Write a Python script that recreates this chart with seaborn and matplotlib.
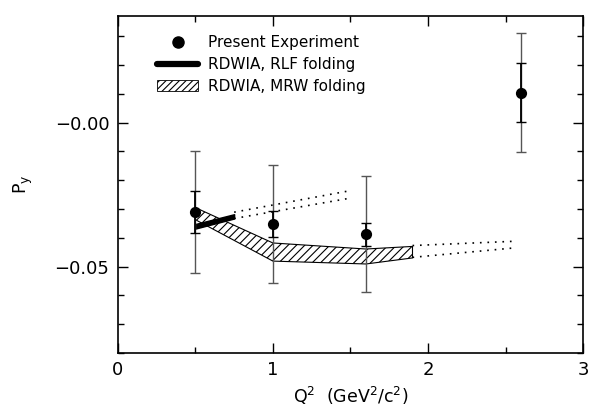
import numpy as np
import pandas as pd
import matplotlib
matplotlib.use("Agg")
import matplotlib.pyplot as plt
from matplotlib.lines import Line2D
from matplotlib.patches import Patch
from matplotlib.ticker import MultipleLocator
import seaborn as sns

# measured points
q2_exp = [0.5, 1.0, 1.6, 2.6]
py_exp = [-0.0310, -0.0352, -0.0387, 0.0105]
err_stat = [0.0074, 0.0045, 0.0040, 0.0102]
err_tot = [0.0213, 0.0205, 0.0203, 0.0207]

# RDWIA, RLF folding (narrow band) + dotted continuation
q2_rlf = [0.5, 0.75]
rlf_hi = [-0.0352, -0.0318]
rlf_lo = [-0.0368, -0.0333]
q2_rlf_ext = [0.75, 1.5]
rlf_ext_hi = [-0.0311, -0.0236]
rlf_ext_lo = [-0.0333, -0.0262]

# RDWIA, MRW folding (hatched band) + dotted continuation
q2_mrw = [0.5, 1.0, 1.6, 1.9]
mrw_hi = [-0.0295, -0.0418, -0.0439, -0.0430]
mrw_lo = [-0.0337, -0.0481, -0.0491, -0.0470]
q2_mrw_ext = [1.9, 2.56]
mrw_ext_hi = [-0.0427, -0.0412]
mrw_ext_lo = [-0.0468, -0.0435]

ytick_vals = [-0.05, 0.0]
ytick_labels = ["\u22120.05", "\u22120.00"]
xtick_vals = [0, 1, 2, 3]


def main():
    sns.set_theme(style="ticks")
    plt.rcParams["font.family"] = ["DejaVu Sans"]
    plt.rcParams["hatch.linewidth"] = 0.8
    for key in ("text.color", "axes.labelcolor", "xtick.color",
                "ytick.color", "axes.edgecolor"):
        plt.rcParams[key] = "black"

    fig = plt.figure(figsize=(5.95, 4.07), dpi=100)
    ax = fig.add_axes([0.198, 0.133, 0.782, 0.827])

    dotted = (0, (1, 3.5))

    # MRW band
    ax.fill_between(q2_mrw, mrw_lo, mrw_hi, facecolor="white",
                    edgecolor="black", hatch="////", linewidth=0.8, zorder=2)
    for ys in (mrw_ext_hi, mrw_ext_lo):
        sns.lineplot(x=q2_mrw_ext, y=ys, ax=ax, color="black",
                     linestyle=dotted, linewidth=1.2, zorder=2)

    # RLF band
    ax.fill_between(q2_rlf, rlf_lo, rlf_hi, facecolor="black",
                    edgecolor="black", linewidth=1.0, zorder=3)
    for ys in (rlf_ext_hi, rlf_ext_lo):
        sns.lineplot(x=q2_rlf_ext, y=ys, ax=ax, color="black",
                     linestyle=dotted, linewidth=1.2, zorder=2)

    # error bars: total (thin grey) and statistical (black)
    ax.errorbar(q2_exp, py_exp, yerr=err_tot, fmt="none", ecolor="#555555",
                elinewidth=1.0, capsize=3.8, capthick=1.0, zorder=4)
    ax.errorbar(q2_exp, py_exp, yerr=err_stat, fmt="none", ecolor="black",
                elinewidth=1.3, capsize=3.8, capthick=1.0, zorder=4)

    df = pd.DataFrame({"q2": q2_exp, "py": py_exp})
    sns.scatterplot(data=df, x="q2", y="py", ax=ax, color="black", s=65,
                    edgecolor="black", linewidth=0, zorder=5)

    ax.set_xlim(0, 3)
    ax.set_ylim(-0.08, 0.037)
    ax.set_xticks(xtick_vals)
    ax.set_xticklabels([str(v) for v in xtick_vals])
    ax.set_yticks(ytick_vals)
    ax.set_yticklabels(ytick_labels)
    ax.xaxis.set_minor_locator(MultipleLocator(0.5))
    ax.yaxis.set_minor_locator(MultipleLocator(0.01))
    ax.tick_params(which="both", direction="in", top=True, right=True,
                   width=1.0, colors="black", labelsize=13)
    ax.tick_params(which="major", length=7, pad=6)
    ax.tick_params(which="minor", length=4)
    for sp in ax.spines.values():
        sp.set_linewidth(1.2)
        sp.set_color("black")

    ax.set_xlabel("Q$^2$  (GeV$^2$/c$^2$)", fontsize=12.5, labelpad=4)
    ax.set_ylabel("P$_\\mathregular{y}$", fontsize=12.5, labelpad=14)

    handles = [
        Line2D([], [], marker="o", color="black", linestyle="none",
               markersize=8),
        Line2D([], [], color="black", linewidth=4.5),
        Patch(facecolor="white", edgecolor="black", hatch="/////",
              linewidth=0.6),
    ]
    labels = ["Present Experiment", "RDWIA, RLF folding",
              "RDWIA, MRW folding"]
    leg = ax.legend(handles, labels, loc="upper left",
                    bbox_to_anchor=(0.055, 0.985), frameon=False,
                    fontsize=11, handlelength=2.7, handletextpad=0.6,
                    labelspacing=0.45)
    for t in leg.get_texts():
        t.set_color("black")

    fig.savefig("out.png", dpi=100)


if __name__ == "__main__":
    main()
